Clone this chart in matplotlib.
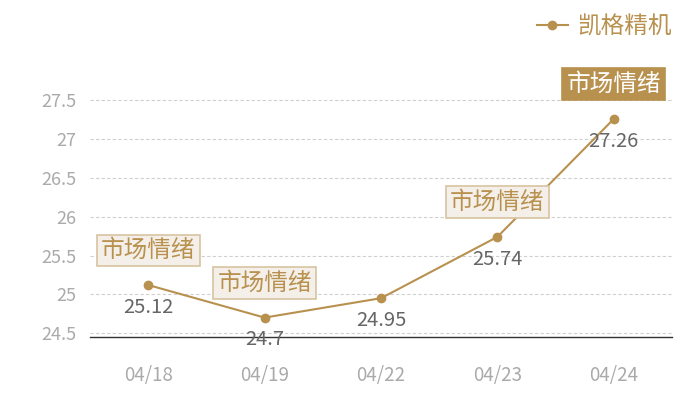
import matplotlib
matplotlib.use("Agg")
import matplotlib.pyplot as plt

plt.rcParams['font.family'] = ['Noto Sans CJK SC', 'DejaVu Sans']

dates = ["04/18", "04/19", "04/22", "04/23", "04/24"]
values = [25.12, 24.7, 24.95, 25.74, 27.26]
series_name = "凯格精机"
mark_label = "市场情绪"
marked = [0, 1, 3, 4]
y_ticks = [24.5, 25, 25.5, 26, 26.5, 27, 27.5]

gold = "#b8914f"


def main():
    fig = plt.figure(figsize=(7, 4), dpi=100)
    ax = fig.add_axes([90 / 700, 1 - 337 / 400, 582 / 700, 260 / 400])
    x = list(range(len(dates)))

    ax.plot(x, values, "-o", color=gold, markersize=6, linewidth=1.5,
            label=series_name, zorder=3)

    for i, v in enumerate(values):
        ax.annotate(str(v), (i, v), xytext=(0, -16), textcoords="offset points",
                    ha="center", va="center", fontsize=14.5, color="#666666")

    for i in marked:
        last = i == len(values) - 1
        ax.annotate(mark_label, (i, values[i]), xytext=(0, 25),
                    textcoords="offset points", ha="center", va="center",
                    fontsize=17, color="white" if last else gold,
                    bbox=dict(boxstyle="square,pad=0.18",
                              fc=gold if last else "#f4efe8",
                              ec=gold if last else "#d8c3a0", lw=1.2),
                    zorder=4)

    ax.set_xlim(-0.5, len(dates) - 0.5)
    ax.set_ylim(24.45, 27.8)
    ax.set_xticks(x)
    ax.set_xticklabels(dates)
    ax.set_yticks(y_ticks)
    ax.set_yticklabels([f"{t:g}" for t in y_ticks])
    ax.tick_params(axis="both", length=0, colors="#aaaaaa")
    ax.tick_params(axis="x", pad=20, labelsize=13.5)
    ax.tick_params(axis="y", pad=10, labelsize=13)
    ax.grid(axis="y", linestyle=(0, (3, 2)), color="#d0d0d0", linewidth=0.8)
    for s in ["top", "right", "left"]:
        ax.spines[s].set_visible(False)
    ax.spines["bottom"].set_color("#333333")
    ax.spines["bottom"].set_linewidth(1)

    leg = fig.legend(loc="upper right", bbox_to_anchor=(0.99, 1.015), frameon=False,
                     fontsize=17, handlelength=1.3, handletextpad=0.4)
    for t in leg.get_texts():
        t.set_color(gold)

    fig.savefig("out.png", dpi=100)


if __name__ == "__main__":
    main()
